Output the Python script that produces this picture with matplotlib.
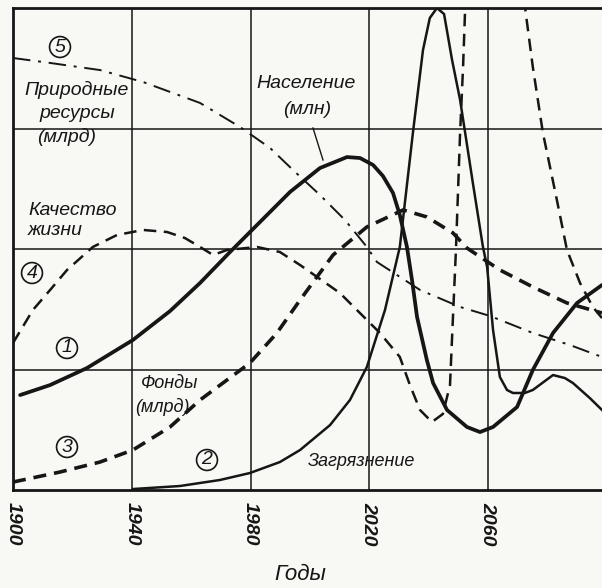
import matplotlib
matplotlib.use("Agg")
import matplotlib.pyplot as plt
from matplotlib.lines import Line2D

# ---------------- data (years, value in grid units 0..4) ----------------
res_years = [1900, 1912.5, 1929.3, 1943.8, 1963.0, 1976.5, 1986.6, 1994.3, 2003.4, 2011.8,
             2019.2, 2022.6, 2037.1, 2050.6, 2060.7, 2075.1, 2087.6, 2098.4]
res_vals = [3.585, 3.544, 3.485, 3.386, 3.212, 3.012, 2.838, 2.656, 2.448, 2.241,
            2.017, 1.892, 1.660, 1.519, 1.444, 1.303, 1.203, 1.104]

pop_years = [1902.4, 1912.5, 1924.9, 1940.4, 1952.9, 1963.0, 1973.1, 1983.2, 1993.3, 2003.4,
             2012.5, 2016.9, 2021.3, 2024.6, 2028.0, 2030.3, 2032.7, 2034.4, 2036.1, 2039.4,
             2041.5, 2046.2, 2052.9, 2057.3, 2061.7, 2069.8, 2075.1, 2081.9, 2090.0, 2098.4]
pop_vals = [0.788, 0.871, 1.012, 1.245, 1.485, 1.718, 1.975, 2.224, 2.473, 2.672,
            2.763, 2.755, 2.697, 2.606, 2.465, 2.282, 2.017, 1.743, 1.436, 1.079,
            0.888, 0.664, 0.523, 0.481, 0.523, 0.689, 0.996, 1.303, 1.552, 1.701]

pol_years = [1940.4, 1956.2, 1969.7, 1979.8, 1989.9, 1996.7, 2006.8, 2013.5, 2019.2, 2025.3,
             2030.3, 2034.7, 2038.1, 2040.4, 2042.8, 2045.2, 2047.9, 2050.6, 2054.9, 2058.3,
             2059.7, 2061.7, 2064.0, 2066.4, 2068.4, 2072.4, 2075.1, 2081.9, 2085.9, 2088.6,
             2094.3, 2098.4]
pol_vals = [0.008, 0.033, 0.083, 0.141, 0.232, 0.332, 0.539, 0.747, 1.021, 1.494,
            2.017, 2.963, 3.651, 3.917, 4.0, 3.950, 3.568, 3.237, 2.548, 2.017,
            1.851, 1.328, 0.938, 0.830, 0.805, 0.805, 0.830, 0.954, 0.929, 0.888,
            0.763, 0.664]

qol_years = [1900, 1906.7, 1912.5, 1918.2, 1926.9, 1935.0, 1943.8, 1951.9, 1957.9, 1963.0,
             1967.4, 1972.1, 1982.2, 1989.9, 1996.7, 2010.1, 2023.6, 2030.3, 2033.7, 2037.1,
             2041.1, 2044.8, 2047.2, 2048.2, 2049.2, 2050.6, 2051.6, 2052.2, 2052.9, 2055.6,
             2062.0, 2068.4, 2070.8, 2072.5, 2075.1, 2078.5, 2083.2, 2086.6, 2091.0, 2095.3,
             2098.4]
qol_vals = [1.220, 1.494, 1.660, 1.826, 2.017, 2.116, 2.158, 2.141, 2.091, 2.017,
            1.950, 1.992, 2.017, 1.975, 1.867, 1.635, 1.303, 1.104, 0.871, 0.664,
            0.564, 0.631, 0.871, 1.436, 1.992, 2.963, 3.510, 3.925, 4.398, 4.979,
            5.23, 4.896, 4.398, 4.0, 3.510, 2.963, 2.407, 1.992, 1.718, 1.519,
            1.427]

fund_years = [1900, 1915.8, 1929.3, 1940.4, 1952.9, 1963.0, 1979.8, 1988.9, 1996.7, 2007.8,
              2019.2, 2031.4, 2039.4, 2048.2, 2052.9, 2064.0, 2075.1, 2086.6, 2098.4]
fund_vals = [0.066, 0.149, 0.232, 0.332, 0.523, 0.747, 1.054, 1.303, 1.577, 1.950,
             2.183, 2.324, 2.266, 2.133, 2.008, 1.826, 1.685, 1.552, 1.469]

tick_years = [1900, 1940, 1980, 2020, 2060]
tick_labels = ["1900", "1940", "1980", "2020", "2060"]

# ---------------- style ----------------
INK = "#161616"
PAPER = "#f8f8f4"
FAM = ["Liberation Sans", "DejaVu Sans"]
W, H = 602, 588

fig = plt.figure(figsize=(W / 100, H / 100), dpi=100, facecolor=PAPER)
left, right, top, bottom = 13, 602, 8, 490
ax = fig.add_axes([left / W, 1 - bottom / H, (right - left) / W, (bottom - top) / H])
ax.set_facecolor(PAPER)
ax.set_xlim(1900, 2098.4)
ax.set_ylim(0, 4)

for sp in ["left", "bottom", "top"]:
    ax.spines[sp].set_linewidth(2.0)
    ax.spines[sp].set_color(INK)
ax.spines["right"].set_visible(False)

for yr in tick_years[1:]:
    ax.axvline(yr, color=INK, lw=1.1, zorder=1)
for v in [1, 2, 3]:
    ax.axhline(v, color=INK, lw=1.1, zorder=1)

ax.set_yticks([])
ax.set_xticks(tick_years)
ax.set_xticklabels(tick_labels, rotation=-90, family=FAM, style="italic",
                   fontsize=14, fontweight="bold", color=INK, va="top", ha="center")
ax.tick_params(axis="x", length=0, pad=9)

# curves
ax.plot(res_years, res_vals, color=INK, lw=1.4, ls=(0, (9, 4, 1.5, 4)), zorder=3)
ax.plot(pop_years, pop_vals, color=INK, lw=2.7, solid_capstyle="round",
        solid_joinstyle="round", zorder=4)
ax.plot(pol_years, pol_vals, color=INK, lw=1.8, solid_joinstyle="round", zorder=4)
ax.plot(qol_years, qol_vals, color=INK, lw=1.8, ls=(0, (5, 3)), zorder=3)
ax.plot(fund_years, fund_vals, color=INK, lw=2.6, ls=(0, (3.6, 2.2)), zorder=3)


def ftxt(x, y, s, size=14, ha="center", **kw):
    fig.text(x / W, 1 - y / H, s, ha=ha, va="center", fontsize=size, family=FAM,
             style="italic", color=INK, **kw)


def circ(x, y, s):
    fig.text(x / W, 1 - y / H, s, ha="center", va="center", fontsize=14, family=FAM,
             style="italic", color=INK,
             bbox=dict(boxstyle="circle,pad=0.1", fc="none", ec=INK, lw=1.2))


ftxt(77, 90, "Природные")
ftxt(77, 113, "ресурсы")
ftxt(67, 137, "(млрд)")
ftxt(28, 210, "Качество", ha="left")
ftxt(28, 231, "жизни", ha="left")
ftxt(306, 84, "Население")
ftxt(307, 109, "(млн)")
ftxt(170, 383, "Фонды", size=13)
ftxt(162, 407, "(млрд)", size=13)
ftxt(362, 461, "Загрязнение", size=13)
ftxt(300, 575, "Годы", size=16)

circ(60, 47, "5")
circ(32, 273, "4")
circ(67, 348, "1")
circ(67, 447, "3")
circ(207, 460, "2")

fig.add_artist(Line2D([313 / W, 323 / W], [1 - 128 / H, 1 - 160 / H], color=INK, lw=1.0))

fig.savefig("out.png", dpi=100, facecolor=PAPER)
